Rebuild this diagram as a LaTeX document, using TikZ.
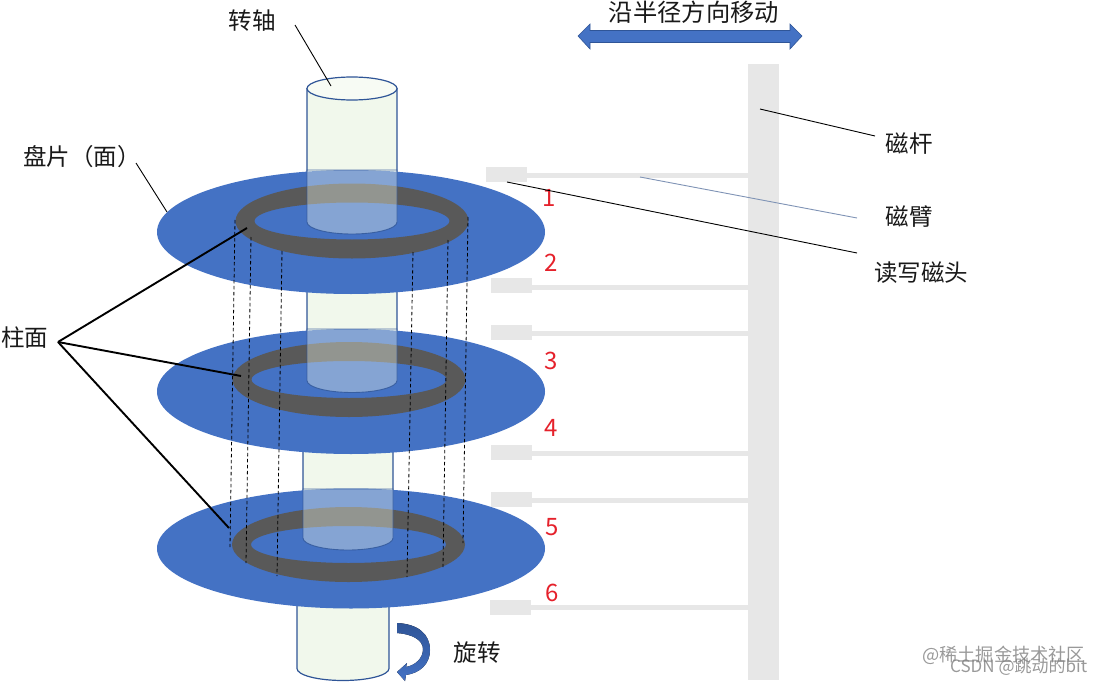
\documentclass[tikz,border=0pt]{standalone}
\usepackage{fontspec}
\setmainfont{Noto Sans CJK SC}
\definecolor{discblue}{HTML}{4472C4}
\definecolor{ringgray}{HTML}{595959}
\definecolor{cylfill}{HTML}{F1F8EC}
\definecolor{cyledge}{HTML}{2F5597}
\definecolor{armgray}{HTML}{E7E7E7}
\definecolor{numred}{HTML}{E5212B}
\definecolor{thinblue}{HTML}{7F93B5}
\newcommand{\cylbody}[4]{(#1,#2) -- (#1,#4) arc[start angle=180,end angle=360,x radius=#3pt/2,y radius=12pt] -- (#1+#3,#2) -- cycle}
\newcommand{\disk}[4]{
  \fill[discblue] (351,#1) ellipse[x radius=194pt,y radius=#2pt];
  \fill[ringgray,even odd rule] (#3,#4) ellipse[x radius=116.5pt,y radius=37.5pt] (#3,#4) ellipse[x radius=97.5pt,y radius=18.5pt];
}
\tikzset{
  cylsolid/.style={fill=cylfill,draw=cyledge,line width=1.2pt},
  cylglass/.style={fill=cylfill,fill opacity=0.38,draw=cyledge,draw opacity=0.8,line width=0.9pt},
  cutline/.style={black,line width=0.8pt,dash pattern=on 3.5pt off 2.5pt},
  lead/.style={black,line width=0.9pt},
  leadthick/.style={black,line width=1.9pt},
  label/.style={font=\fontsize{23.5}{25}\selectfont,inner sep=0pt,text=black!90},
  numlabel/.style={font=\fontsize{24}{26}\selectfont,inner sep=0pt,text=numred},
  armbar/.style={fill=armgray,draw=none},
  mark text/.style={inner sep=0pt,text=gray,text opacity=0.8}
}
\begin{document}
\begin{tikzpicture}[x=1pt,y=-1pt]
\useasboundingbox (0,0) rectangle (1103,685);
% bottom stub
\draw[cylsolid] \cylbody{297}{600}{92}{668.5};
% disc 3
\draw[cylsolid] \cylbody{303}{445}{90}{538};
\disk{548.5}{60}{348.5}{544.5}
\path[cylglass] \cylbody{303}{489}{90}{538};
% disc 2
\draw[cylsolid] \cylbody{307}{285}{90}{380.5};
\disk{391.5}{62.5}{349}{379.5}
\path[cylglass] \cylbody{307}{329}{90}{380.5};
% disc 1
\draw[cylsolid] \cylbody{307}{88.5}{90}{222};
\disk{232}{62}{352}{221}
\path[cylglass] \cylbody{307}{170}{90}{222};
\draw[cyledge,line width=1.2pt,fill=cylfill!60!white] (352,88.5) ellipse[x radius=45pt,y radius=11.5pt];
% dashed cylinder generators
\coordinate (a1) at (235,220); \coordinate (a2) at (230,547);
\coordinate (b1) at (251,237); \coordinate (b2) at (246,563);
\coordinate (c1) at (282,251); \coordinate (c2) at (277,576);
\coordinate (d1) at (413,252); \coordinate (d2) at (407,577);
\coordinate (e1) at (448,240); \coordinate (e2) at (443,567);
\coordinate (f1) at (468,217); \coordinate (f2) at (463,543);
\foreach \n in {a,b,c,d,e,f} \draw[cutline] (\n1) -- (\n2);
% pole and arms
\node[armbar,inner sep=0pt,minimum width=31pt,minimum height=616pt] (pole) at (763.5,372) {};
\fill[armbar] (527,172.5) rectangle (748,178);
\fill[armbar] (486,167) rectangle (527,182);
\fill[armbar] (532,285) rectangle (748,290);
\fill[armbar] (491,278) rectangle (532,293);
\fill[armbar] (532,331) rectangle (748,336);
\fill[armbar] (491,325) rectangle (532,340);
\fill[armbar] (532,451) rectangle (748,456);
\fill[armbar] (491,445) rectangle (532,460);
\fill[armbar] (532,497.5) rectangle (748,502.5);
\fill[armbar] (491,492) rectangle (532,507);
\fill[armbar] (531,605) rectangle (748,610);
\fill[armbar] (490,600) rectangle (531,615);
% labels
\node[label] (axis) at (252,21) {转轴};
\node[label,anchor=west] (platter) at (23,157) {盘片（面）};
\node[label] (cyl) at (25,338) {柱面};
\node[label] (rod) at (909,144) {磁杆};
\node[label] (arm) at (909,217) {磁臂};
\node[label] (head) at (921,273) {读写磁头};
\node[label] (spin) at (477,653) {旋转};
\node[label,font=\fontsize{24.3}{26}\selectfont] (move) at (694,12) {沿半径方向移动};
\node[numlabel] (n1) at (549,198) {1};
\node[numlabel] (n2) at (551,263) {2};
\node[numlabel] (n3) at (551,361) {3};
\node[numlabel] (n4) at (551,428) {4};
\node[numlabel] (n5) at (552,527) {5};
\node[numlabel] (n6) at (552,593) {6};
% leaders
\coordinate (axisA) at (295,25); \coordinate (axisB) at (331,86);
\draw[lead] (axisA) -- (axisB);
\coordinate (platA) at (136,163); \coordinate (platB) at (167,212);
\draw[lead] (platA) -- (platB);
\coordinate (cylO) at (58,342);
\coordinate (cylA) at (247,228); \coordinate (cylB) at (241,376); \coordinate (cylC) at (229,528);
\draw[leadthick] (cylO) -- (cylA);
\draw[leadthick] (cylO) -- (cylB);
\draw[leadthick] (cylO) -- (cylC);
\coordinate (rodA) at (760,109); \coordinate (rodB) at (875,136);
\draw[lead] (rodA) -- (rodB);
\coordinate (armA) at (640,177); \coordinate (armB) at (857,218);
\draw[thinblue,line width=0.9pt] (armA) -- (armB);
\coordinate (headA) at (507,182); \coordinate (headB) at (857,253);
\draw[lead] (headA) -- (headB);
% radial double arrow
\draw[fill=discblue,draw=cyledge,line width=0.6pt] (578,36) -- (590,24) -- (590,30.5) -- (790,30.5) -- (790,24) -- (802,36) -- (790,49) -- (790,42.5) -- (590,42.5) -- (590,49) -- cycle;
% rotation arrow
\fill[top color=cyledge,bottom color=discblue] (397,623) .. controls (418,624) and (430,634) .. (430,650) .. controls (430,664) and (420,673) .. (406,675) -- (405,681) -- (397,672) -- (407,663) -- (406,667) .. controls (416,665) and (423,658) .. (423,649) .. controls (423,640) and (412,634) .. (397,633) -- cycle;
% watermarks
\node[mark text,anchor=west,font=\fontsize{18.2}{20}\selectfont] (wm1) at (922,655) {@稀土掘金技术社区};
\node[mark text,anchor=west,font=\fontsize{17}{19}\selectfont] (wm2) at (950,667) {CSDN @跳动的bit};
\end{tikzpicture}
\end{document}
